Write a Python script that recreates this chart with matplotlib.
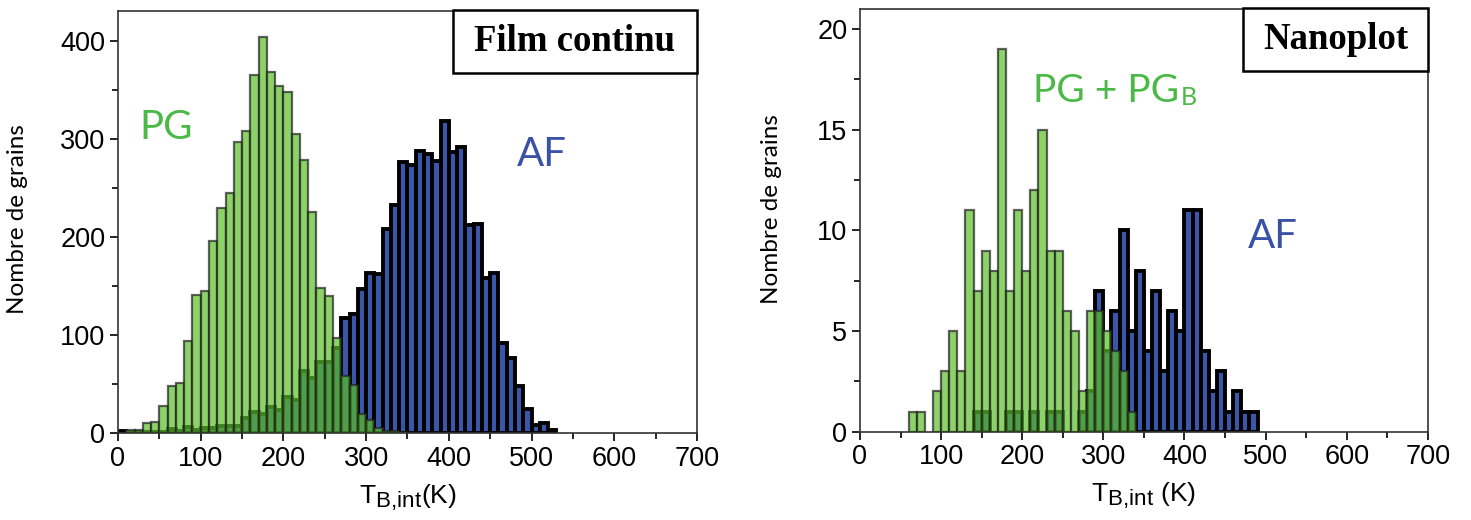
import numpy as np
import matplotlib.pyplot as plt
import matplotlib._mathtext as mathtext_interne
from matplotlib.colors import to_rgba
from matplotlib.patches import Rectangle

# Histogrammes de T_B,int : bins de 10 K (bord gauche du bin)
bins_film = np.arange(0, 540, 10)
pg_film = [0, 3, 3, 11, 12, 28, 48, 51, 94, 141,
           145, 196, 229, 245, 297, 308, 365, 404, 368, 354,
           348, 305, 278, 225, 148, 140, 97, 58, 49, 20,
           14, 5, 2, 2, 1] + [0] * 19
af_film = [2, 1, 1, 1, 1, 1, 4, 2, 6, 3,
           5, 5, 7, 7, 7, 16, 22, 20, 27, 24,
           37, 34, 63, 56, 73, 73, 87, 117, 122, 147,
           163, 162, 208, 233, 276, 273, 288, 284, 277, 318,
           286, 292, 212, 213, 158, 163, 92, 77, 48, 25,
           8, 10, 3, 0]

bins_nano = np.arange(60, 490, 10)
pg_nano = [1, 1, 0, 2, 3, 5, 3, 11, 7, 9,
           8, 19, 7, 11, 8, 12, 15, 9, 9, 6,
           5, 2, 6, 6, 5, 4, 3, 1] + [0] * 15
af_nano = [0, 0, 0, 0, 0, 0, 0, 0, 1, 1,
           0, 0, 1, 1, 0, 1, 0, 1, 1, 0,
           0, 1, 2, 7, 4, 6, 10, 5, 8, 4,
           7, 3, 6, 5, 11, 11, 4, 2, 3, 1,
           2, 1, 1]

xticks = [0, 100, 200, 300, 400, 500, 600, 700]
yticks_film = [0, 100, 200, 300, 400]
yticks_nano = [0, 5, 10, 15, 20]

VERT = '#58be26'
BLEU = '#3a56a8'
TXT_VERT = '#4cb848'
TXT_BLEU = '#3a52a6'

plt.rcParams['font.family'] = ['Liberation Sans Narrow', 'Liberation Sans', 'DejaVu Sans']
plt.rcParams['mathtext.fontset'] = 'custom'
plt.rcParams['mathtext.rm'] = 'Liberation Sans Narrow'
# indice "B,int" presque aussi grand que le T, comme sur la figure d'origine
mathtext_interne.SHRINK_FACTOR = 0.85


def barres(ax, bins, valeurs, **kw):
    bins = np.asarray(bins)
    valeurs = np.asarray(valeurs)
    m = valeurs > 0
    ax.bar(bins[m], valeurs[m], width=10, align='edge', **kw)


def panneau(ax, bins, pg, af, yticks, ymax, titre, box_x0):
    # AF en dessous (bleu, bords noirs), PG par-dessus (vert transparent)
    barres(ax, bins, af, color=BLEU, edgecolor='black', linewidth=2.8, zorder=2)
    barres(ax, bins, pg, color=to_rgba(VERT, 0.69),
           edgecolor=to_rgba('#222222', 0.7), linewidth=1.6, zorder=3)

    ax.set_xlim(0, 700)
    ax.set_ylim(0, ymax)
    ax.set_xticks(xticks)
    ax.set_xticks(np.arange(50, 700, 100), minor=True)
    ax.set_yticks(yticks)
    ax.set_yticks(np.array(yticks[:-1]) + (yticks[1] - yticks[0]) / 2, minor=True)
    ax.tick_params(which='major', direction='out', length=6, width=1.2, labelsize=19.5, pad=3)
    ax.tick_params(which='minor', direction='out', length=4, width=1.2)
    for s in ax.spines.values():
        s.set_color('#333333')
        s.set_linewidth(1.2)

    ax.add_patch(Rectangle((box_x0, 0.853), 1 - box_x0, 0.149, transform=ax.transAxes,
                           facecolor='white', edgecolor='black', linewidth=1.8,
                           clip_on=False, zorder=6))
    ax.text((box_x0 + 1) / 2, 0.927, titre, transform=ax.transAxes, ha='center', va='center',
            family='Liberation Serif', fontweight='bold', fontsize=26.5, zorder=7)


fig = plt.figure(figsize=(14.71, 5.2), dpi=100)
ax1 = fig.add_axes([0.0802, 0.1667, 0.3936, 0.812])
ax2 = fig.add_axes([0.5846, 0.1698, 0.3861, 0.8129])

panneau(ax1, bins_film, pg_film, af_film, yticks_film, 430, 'Film continu', 0.5786)
panneau(ax2, bins_nano, pg_nano, af_nano, yticks_nano, 21, 'Nanoplot', 0.674)

ax1.set_xlabel(r'T$_{\mathregular{B{,}int}}$(K)', fontsize=19, labelpad=8)
ax2.set_xlabel(r'T$_{\mathregular{B{,}int}}$ (K)', fontsize=19, labelpad=8)

fig.text(18 / 1471, 1 - 219 / 520, 'Nombre de grains', rotation=90, ha='center', va='center',
         family='Lato', fontsize=17.5)
fig.text(772 / 1471, 1 - 209 / 520, 'Nombre de grains', rotation=90, ha='center', va='center',
         family='Lato', fontsize=17.5)

# étiquettes des populations
ax1.text(58, 311, 'PG', color=TXT_VERT, family='Lato', fontsize=29, ha='center', va='center')
ax1.text(513, 284, 'AF', color=TXT_BLEU, family='Lato', fontsize=29, ha='center', va='center')
t = ax2.text(213, 16.4, 'PG + PG', color=TXT_VERT, family='Lato', fontsize=28,
             ha='left', va='baseline')
ax2.annotate('B', xy=(1, 0), xycoords=t, xytext=(1, 0), textcoords='offset points',
             color=TXT_VERT, family='Lato', fontsize=18, ha='left', va='bottom')
ax2.text(509, 9.7, 'AF', color=TXT_BLEU, family='Lato', fontsize=29, ha='center', va='center')

fig.savefig('out.png', dpi=100)
